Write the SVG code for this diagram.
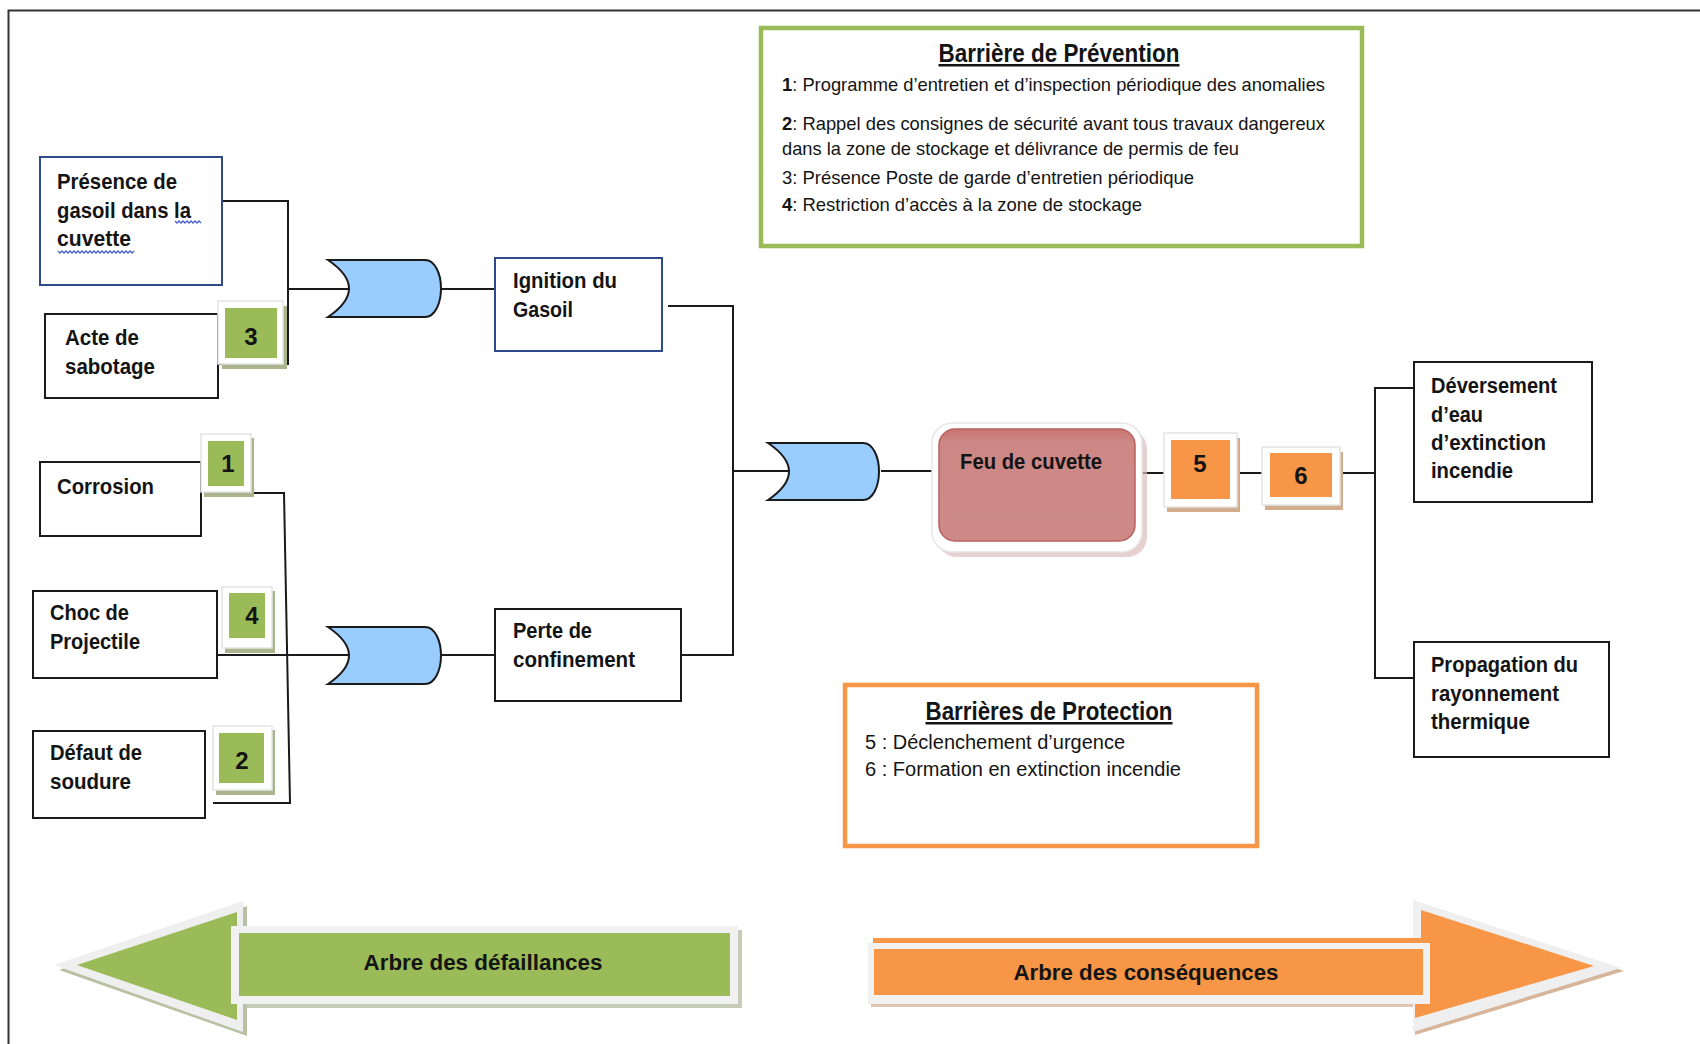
<svg xmlns="http://www.w3.org/2000/svg" width="1700" height="1044" viewBox="0 0 1700 1044">
<defs>
<style>
.t{font-family:"Liberation Sans Narrow","Liberation Sans",Arial,sans-serif;fill:#141414}
.lb{font-size:22px;font-weight:bold}
.num{font-size:24px;font-weight:bold;text-anchor:middle}
.ln{font-size:19px}
.pl{font-size:20px}
.ttl{font-size:25px;font-weight:bold;text-decoration:underline}
.arr{font-size:22px;font-weight:bold;text-anchor:middle}
.box{fill:#fff;stroke:#1a1a1a;stroke-width:2}
.bbox{fill:#fff;stroke:#2F4A8A;stroke-width:2}
.gate{fill:#99CCFF;stroke:#1a1a1a;stroke-width:2}
.con{fill:none;stroke:#1a1a1a;stroke-width:2}
.bw{fill:#fff;stroke:#e4e4e4;stroke-width:1.5}
.gsh{fill:#aab58e}
.osh{fill:#d2ad8c}
.gi{fill:#9BBB59}
.oi{fill:#F79646}
.wavy{fill:none;stroke:#4a5fc8;stroke-width:1.3}
</style>
<linearGradient id="pink" x1="0" y1="0" x2="0" y2="1">
<stop offset="0" stop-color="#C77471"/>
<stop offset="0.12" stop-color="#CD8886"/>
<stop offset="1" stop-color="#CE8A88"/>
</linearGradient>
</defs>
<rect x="0" y="0" width="1700" height="1044" fill="#fff"/>
<path d="M8.5 1044 V10.5 H1700" fill="none" stroke="#333" stroke-width="2"/>

<g id="connectors">
<path class="con" d="M222 201 H288 V364 H218"/>
<path class="con" d="M288 289 H349"/>
<path class="con" d="M441 289 H495"/>
<path class="con" d="M668 306 H733 V655 H681"/>
<path class="con" d="M733 471 H789"/>
<path class="con" d="M881 471 H932"/>
<path class="con" d="M1142 473 H1164"/>
<path class="con" d="M1237 473 H1262"/>
<path class="con" d="M1340 473 H1375"/>
<path class="con" d="M1414 388 H1375 V678 H1414"/>
<path class="con" d="M204 493 H284 L290 803 H213"/>
<path class="con" d="M217 655 H349"/>
<path class="con" d="M441 655 H495"/>
</g>

<g id="prevention">
<rect x="761" y="28" width="601" height="218" fill="#fff" stroke="#9BBB59" stroke-width="4.5"/>
<text class="t ttl" x="1059" y="62" text-anchor="middle" textLength="241" lengthAdjust="spacingAndGlyphs">Barrière de Prévention</text>
<text class="t ln" x="782" y="91" textLength="543" lengthAdjust="spacingAndGlyphs"><tspan font-weight="bold">1</tspan>: Programme d’entretien et d’inspection périodique des anomalies</text>
<text class="t ln" x="782" y="130" textLength="543" lengthAdjust="spacingAndGlyphs"><tspan font-weight="bold">2</tspan>: Rappel des consignes de sécurité avant tous travaux dangereux</text>
<text class="t ln" x="782" y="155" textLength="457" lengthAdjust="spacingAndGlyphs">dans la zone de stockage et délivrance de permis de feu</text>
<text class="t ln" x="782" y="184" textLength="412" lengthAdjust="spacingAndGlyphs">3: Présence Poste de garde d’entretien périodique</text>
<text class="t ln" x="782" y="211" textLength="360" lengthAdjust="spacingAndGlyphs"><tspan font-weight="bold">4</tspan>: Restriction d’accès à la zone de stockage</text>
</g>

<g id="presence">
<rect class="bbox" x="40" y="157" width="182" height="128"/>
<text class="t lb" x="57" y="189" textLength="120" lengthAdjust="spacingAndGlyphs">Présence de</text>
<text class="t lb" x="57" y="218" textLength="134" lengthAdjust="spacingAndGlyphs">gasoil dans la</text>
<text class="t lb" x="57" y="246" textLength="74" lengthAdjust="spacingAndGlyphs">cuvette</text>
<path class="wavy" d="M175 221 l2 2 l2 -2 l2 2 l2 -2 l2 2 l2 -2 l2 2 l2 -2 l2 2 l2 -2 l2 2 l2 -2 l2 2"/>
<path class="wavy" d="M58 251 l2 2 l2 -2 l2 2 l2 -2 l2 2 l2 -2 l2 2 l2 -2 l2 2 l2 -2 l2 2 l2 -2 l2 2 l2 -2 l2 2 l2 -2 l2 2 l2 -2 l2 2 l2 -2 l2 2 l2 -2 l2 2 l2 -2 l2 2 l2 -2 l2 2 l2 -2 l2 2 l2 -2 l2 2 l2 -2 l2 2 l2 -2 l2 2 l2 -2 l2 2 l2 -2"/>
</g>

<g id="sabotage">
<rect class="box" x="45" y="314" width="173" height="84"/>
<text class="t lb" x="65" y="345" textLength="74" lengthAdjust="spacingAndGlyphs">Acte de</text>
<text class="t lb" x="65" y="374" textLength="90" lengthAdjust="spacingAndGlyphs">sabotage</text>
</g>
<g id="badge3">
<rect class="gsh" x="222" y="306" width="65" height="63"/>
<rect class="bw" x="218" y="301" width="65" height="63"/>
<rect class="gi" x="225" y="308" width="52" height="50"/>
<text class="t num" x="251" y="345">3</text>
</g>

<g id="gate1">
<path class="gate" d="M328 260 H425 C435 260 441 274 441 288.5 C441 303 435 317 425 317 H328 Q370 288.5 328 260 Z"/>
</g>

<g id="ignition">
<rect class="bbox" x="495" y="258" width="167" height="93"/>
<text class="t lb" x="513" y="288" textLength="104" lengthAdjust="spacingAndGlyphs">Ignition du</text>
<text class="t lb" x="513" y="317" textLength="60" lengthAdjust="spacingAndGlyphs">Gasoil</text>
</g>

<g id="corrosion">
<rect class="box" x="40" y="462" width="161" height="74"/>
<text class="t lb" x="57" y="494" textLength="97" lengthAdjust="spacingAndGlyphs">Corrosion</text>
</g>
<g id="badge1">
<rect class="gsh" x="204" y="438" width="50" height="59"/>
<rect class="bw" x="201" y="434" width="50" height="58"/>
<rect class="gi" x="208" y="441" width="36" height="45"/>
<text class="t num" x="228" y="472">1</text>
</g>

<g id="choc">
<rect class="box" x="33" y="591" width="184" height="87"/>
<text class="t lb" x="50" y="620" textLength="79" lengthAdjust="spacingAndGlyphs">Choc de</text>
<text class="t lb" x="50" y="649" textLength="90" lengthAdjust="spacingAndGlyphs">Projectile</text>
</g>
<g id="badge4">
<rect class="gsh" x="225" y="591" width="50" height="62"/>
<rect class="bw" x="222" y="587" width="50" height="61"/>
<rect class="gi" x="229" y="593" width="36" height="45"/>
<text class="t num" x="252" y="624">4</text>
</g>

<g id="defaut">
<rect class="box" x="33" y="731" width="172" height="87"/>
<text class="t lb" x="50" y="760" textLength="92" lengthAdjust="spacingAndGlyphs">Défaut de</text>
<text class="t lb" x="50" y="789" textLength="81" lengthAdjust="spacingAndGlyphs">soudure</text>
</g>
<g id="badge2">
<rect class="gsh" x="216" y="730" width="59" height="65"/>
<rect class="bw" x="213" y="726" width="59" height="64"/>
<rect class="gi" x="219" y="733" width="45" height="50"/>
<text class="t num" x="242" y="769">2</text>
</g>

<g id="gate3">
<path class="gate" d="M328 627 H425 C435 627 441 641 441 655.5 C441 670 435 684 425 684 H328 Q370 655.5 328 627 Z"/>
</g>

<g id="perte">
<rect class="box" x="495" y="609" width="186" height="92"/>
<text class="t lb" x="513" y="638" textLength="79" lengthAdjust="spacingAndGlyphs">Perte de</text>
<text class="t lb" x="513" y="667" textLength="122" lengthAdjust="spacingAndGlyphs">confinement</text>
</g>

<g id="gate2">
<path class="gate" d="M768 443 H863 C873 443 879 457 879 471.5 C879 486 873 500 863 500 H768 Q810 471.5 768 443 Z"/>
</g>

<g id="feu">
<rect x="937" y="429" width="210" height="128" rx="20" fill="#dcbcbc" opacity="0.7"/>
<rect x="932" y="423" width="210" height="129" rx="20" fill="#fff" stroke="#e6e6e6" stroke-width="1.5"/>
<rect x="939" y="429" width="196" height="112" rx="16" fill="url(#pink)" stroke="#B9605E" stroke-width="1.5"/>
<text class="t lb" x="1031" y="469" text-anchor="middle" font-size="21" textLength="142" lengthAdjust="spacingAndGlyphs">Feu de cuvette</text>
</g>

<g id="badge5">
<rect class="osh" x="1167" y="438" width="73" height="74"/>
<rect class="bw" x="1164" y="433" width="73" height="74"/>
<rect class="oi" x="1171" y="440" width="59" height="59"/>
<text class="t num" x="1200" y="472">5</text>
</g>
<g id="badge6">
<rect class="osh" x="1265" y="452" width="78" height="58"/>
<rect class="bw" x="1262" y="447" width="78" height="58"/>
<rect class="oi" x="1270" y="453" width="62" height="44"/>
<text class="t num" x="1301" y="484">6</text>
</g>

<g id="deversement">
<rect class="box" x="1414" y="362" width="178" height="140"/>
<text class="t lb" x="1431" y="393" textLength="126" lengthAdjust="spacingAndGlyphs">Déversement</text>
<text class="t lb" x="1431" y="422" textLength="52" lengthAdjust="spacingAndGlyphs">d’eau</text>
<text class="t lb" x="1431" y="450" textLength="115" lengthAdjust="spacingAndGlyphs">d’extinction</text>
<text class="t lb" x="1431" y="478" textLength="82" lengthAdjust="spacingAndGlyphs">incendie</text>
</g>

<g id="propagation">
<rect class="box" x="1414" y="642" width="195" height="115"/>
<text class="t lb" x="1431" y="672" textLength="147" lengthAdjust="spacingAndGlyphs">Propagation du</text>
<text class="t lb" x="1431" y="701" textLength="128" lengthAdjust="spacingAndGlyphs">rayonnement</text>
<text class="t lb" x="1431" y="729" textLength="99" lengthAdjust="spacingAndGlyphs">thermique</text>
</g>

<g id="protection">
<rect x="845" y="685" width="412" height="161" fill="#fff" stroke="#F79646" stroke-width="4.5"/>
<text class="t ttl" x="1049" y="720" text-anchor="middle" textLength="247" lengthAdjust="spacingAndGlyphs">Barrières de Protection</text>
<text class="t pl" x="865" y="749" textLength="260" lengthAdjust="spacingAndGlyphs">5 : Déclenchement  d’urgence</text>
<text class="t pl" x="865" y="776" textLength="316" lengthAdjust="spacingAndGlyphs">6 : Formation en extinction  incendie</text>
</g>

<g id="arrow-left">
<polygon points="59,970 247,906 247,1036" fill="#9aa67c" opacity="0.7"/>
<rect x="235" y="930" width="507" height="78" fill="#b9bfa8" opacity="0.8"/>
<polygon points="54,965 243,901 243,1032" fill="#efefef"/>
<polygon points="77,965 237,912 237,1020" fill="#9BBB59"/>
<rect x="231" y="926" width="507" height="78" fill="#f1f1f1"/>
<rect x="239" y="933" width="491" height="63" fill="#9BBB59"/>
<text class="t arr" x="483" y="970" textLength="239" lengthAdjust="spacingAndGlyphs">Arbre des défaillances</text>
</g>

<g id="arrow-right">
<polygon points="1415,903 1624,971 1415,1035" fill="#cda281" opacity="0.8"/>
<rect x="871" y="946" width="562" height="61" fill="#d4b79f" opacity="0.8"/>
<polygon points="1413,900 1621,968 1413,1032" fill="#efefef"/>
<path d="M873 938 H1421 V910 L1594 966 L1415 1018 V1000 H873 Z" fill="#F79646"/>
<rect x="868" y="943" width="562" height="61" fill="#f1f1f1"/>
<rect x="874" y="949" width="549" height="46" fill="#F79646"/>
<text class="t arr" x="1146" y="980" textLength="265" lengthAdjust="spacingAndGlyphs">Arbre des conséquences</text>
</g>
</svg>
